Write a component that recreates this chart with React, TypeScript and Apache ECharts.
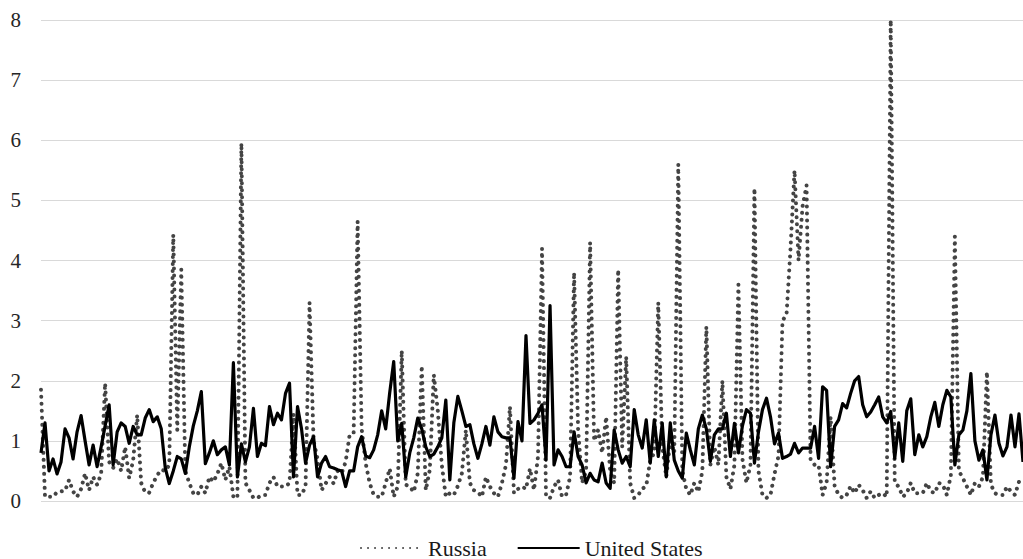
import React, { useEffect, useRef } from "react";
import * as echarts from "echarts";

const russia = [
  1.85, 0.07, 0.07, 0.07, 0.15, 0.16, 0.17, 0.35, 0.16, 0.07,
  0.2, 0.46, 0.18, 0.4, 0.27, 0.45, 1.96, 0.65, 0.55, 0.7,
  0.5, 0.9, 0.38, 0.68, 1.43, 0.3, 0.14, 0.14, 0.3, 0.43,
  0.52, 0.5, 0.6, 4.43, 1.18, 3.85, 0.5, 0.3, 0.13, 0.1,
  0.24, 0.13, 0.4, 0.32, 0.45, 0.63, 0.35, 0.57, 0.07, 0.05,
  5.95, 0.3, 0.18, 0.05, 0.05, 0.1, 0.1, 0.3, 0.4, 0.24,
  0.24, 0.24, 0.3, 1.45, 0.1, 0.1, 0.24, 3.3, 1.0, 0.7,
  0.18, 0.29, 0.4, 0.29, 0.5, 0.46, 0.65, 1.1, 1.13, 4.65,
  1.2, 0.63, 0.3, 0.1, 0.07, 0.07, 0.3, 0.54, 0.07, 0.24,
  2.5, 0.27, 0.24, 0.15, 0.46, 2.25, 0.18, 0.52, 2.1, 1.5,
  0.6, 0.07, 0.13, 0.1, 0.25, 0.46, 1.18, 0.3, 0.18, 0.15,
  0.07, 0.4, 0.24, 0.13, 0.07, 0.3, 0.6, 1.57, 0.13, 0.2,
  0.24, 0.2, 0.54, 0.18, 0.74, 4.2, 0.07, 0.05, 0.24, 0.35,
  0.07, 0.1, 0.4, 3.8, 1.2, 0.3, 0.5, 4.3, 1.0, 1.18,
  0.8, 1.4, 0.5, 0.3, 3.85, 0.9, 2.4, 0.3, 0.05, 0.1,
  0.2, 0.25, 0.68, 0.8, 3.3, 0.9, 0.4, 1.0, 0.8, 5.6,
  0.5, 0.2, 0.1, 0.3, 0.15, 0.5, 2.9, 0.6, 0.9, 0.6,
  2.0, 0.4, 0.2, 0.6, 3.6, 0.7, 0.3, 0.6, 5.2, 0.5,
  0.1, 0.05, 0.1, 0.45, 0.75, 3.0, 3.1, 4.2, 5.5, 4.0,
  4.9, 5.25, 0.7, 0.6, 0.6, 0.1, 0.3, 1.4, 0.25, 0.1,
  0.05, 0.1, 0.25, 0.13, 0.27, 0.18, 0.05, 0.16, 0.05, 0.1,
  0.13, 0.07, 8.0, 0.3, 0.24, 0.07, 0.13, 0.3, 0.13, 0.13,
  0.13, 0.3, 0.16, 0.13, 0.3, 0.27, 0.1, 0.43, 4.4, 0.5,
  0.38, 0.24, 0.1, 0.3, 0.24, 0.4, 2.15, 0.27, 0.13, 0.1,
  0.1, 0.24, 0.16, 0.1, 0.32, 0.4,
];

const unitedStates = [
  0.8, 1.3, 0.5, 0.7, 0.45, 0.65, 1.2, 1.05, 0.7, 1.15,
  1.42, 1.0, 0.6, 0.93, 0.57, 0.9, 1.25, 1.6, 0.6, 1.15,
  1.3, 1.24, 0.96, 1.24, 1.1, 1.1, 1.38, 1.52, 1.32, 1.4,
  1.2, 0.55, 0.29, 0.5, 0.74, 0.7, 0.46, 0.9, 1.25, 1.5,
  1.82, 0.62, 0.8, 1.0, 0.77, 0.85, 0.9, 0.6, 2.3, 0.4,
  0.95, 0.65, 0.9, 1.54, 0.74, 0.96, 0.92, 1.57, 1.27, 1.46,
  1.35, 1.79, 1.96, 0.4, 1.57, 1.2, 0.63, 0.93, 1.07, 0.4,
  0.63, 0.74, 0.57, 0.55, 0.52, 0.5, 0.24, 0.5, 0.5, 0.9,
  1.07, 0.75, 0.72, 0.85, 1.1, 1.5, 1.2, 1.8, 2.32, 1.0,
  1.29, 0.4, 0.8, 1.05, 1.38, 1.2, 0.9, 0.74, 0.78, 0.9,
  1.05, 1.68, 0.35, 1.3, 1.74, 1.5, 1.24, 1.27, 0.95, 0.71,
  0.95, 1.24, 0.93, 1.4, 1.15, 1.07, 1.05, 1.05, 0.38, 1.32,
  1.0, 2.75, 1.29, 1.35, 1.46, 1.6, 0.68, 3.25, 0.6, 0.85,
  0.74, 0.57, 0.57, 1.15, 0.74, 0.6, 0.3, 0.46, 0.35, 0.32,
  0.63, 0.3, 0.21, 1.18, 0.85, 0.63, 0.74, 0.57, 1.52, 1.1,
  0.88, 1.35, 0.63, 1.35, 0.74, 1.29, 0.4, 1.3, 0.68, 0.5,
  0.38, 1.13, 0.85, 0.6, 1.2, 1.43, 1.2, 0.66, 1.1, 1.2,
  1.2, 1.46, 0.74, 1.29, 0.8, 1.25, 1.52, 1.46, 0.63, 1.15,
  1.52, 1.71, 1.4, 0.95, 1.13, 0.71, 0.74, 0.78, 0.96, 0.8,
  0.88, 0.88, 0.88, 1.24, 0.71, 1.9, 1.84, 0.57, 1.24, 1.35,
  1.62, 1.55, 1.79, 2.0, 2.07, 1.6, 1.4, 1.48, 1.6, 1.73,
  1.4, 1.3, 1.49, 0.71, 1.3, 0.66, 1.5, 1.7, 0.77, 1.1,
  0.9, 1.07, 1.4, 1.64, 1.24, 1.6, 1.84, 1.73, 0.6, 1.1,
  1.18, 1.5, 2.12, 1.0, 0.68, 0.85, 0.35, 1.1, 1.43, 0.96,
  0.75, 0.9, 1.43, 0.9, 1.45, 0.65,
];

const categories = russia.map((_, i) => String(i + 1));
const seriesNames = ["Russia", "United States"];

export default function App() {
  const ref = useRef<HTMLDivElement>(null);
  useEffect(() => {
    const chart = echarts.init(ref.current!, undefined, { renderer: "svg" });
    chart.setOption({
      animation: false,
      backgroundColor: "#ffffff",
      grid: { left: 41, right: 0, top: 20, bottom: 58 },
      xAxis: {
        type: "category",
        data: categories,
        boundaryGap: false,
        axisLine: { show: false },
        axisTick: { show: false },
        axisLabel: { show: false },
        splitLine: { show: false },
      },
      yAxis: {
        type: "value",
        min: 0,
        max: 8,
        interval: 1,
        axisLine: { show: false },
        axisTick: { show: false },
        axisLabel: {
          margin: 20,
          fontFamily: "Liberation Serif",
          fontSize: 21,
          color: "#262626",
        },
        splitLine: { lineStyle: { color: "#d9d9d9", width: 1 } },
      },
      legend: {
        data: seriesNames,
        left: 355,
        top: 532,
        itemWidth: 62,
        itemHeight: 14,
        itemGap: 30,
        itemStyle: { opacity: 0 },
        textStyle: { fontFamily: "Liberation Serif", fontSize: 22, color: "#1a1a1a" },
      },
      series: [
        {
          name: seriesNames[0],
          type: "line",
          data: russia,
          symbol: "none",
          lineStyle: { color: "#444444", width: 4, type: [0.01, 7], cap: "round", join: "round" },
          itemStyle: { color: "#444444" },
        },
        {
          name: seriesNames[1],
          type: "line",
          data: unitedStates,
          symbol: "none",
          lineStyle: { color: "#000000", width: 3.2, join: "round" },
          itemStyle: { color: "#000000" },
        },
      ],
    });
    return () => chart.dispose();
  }, []);
  return (
    <div
      ref={ref}
      style={{ position: "fixed", left: 0, top: 0, width: 1023, height: 559 }}
    />
  );
}
